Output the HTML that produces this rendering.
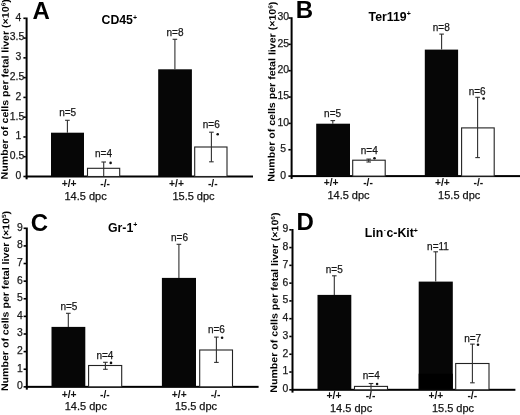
<!DOCTYPE html>
<html><head><meta charset="utf-8"><style>
html,body{margin:0;padding:0;background:#fff;}
svg{display:block;filter:blur(0.3px);}
text{font-family:"Liberation Sans", sans-serif;}
.r{stroke:#1a1a1a;stroke-width:0.25px;}
</style></head><body>
<svg width="520" height="415" viewBox="0 0 520 415">
<rect width="520" height="415" fill="#fff"/>
<rect x="25.6" y="17.5" width="2" height="161.8" fill="#000"/>
<rect x="25.6" y="175.5" width="227.4" height="2" fill="#000"/>
<rect x="23.4" y="175.7" width="2.4" height="1.6" fill="#000"/>
<text x="18.4" y="178.9" class="r" text-anchor="middle" font-size="10.4" fill="#1a1a1a">0</text>
<rect x="23.4" y="155.92" width="2.4" height="1.6" fill="#000"/>
<text x="17" y="159.12" class="r" text-anchor="middle" font-size="10.4" fill="#1a1a1a">0.5</text>
<rect x="23.4" y="136.15" width="2.4" height="1.6" fill="#000"/>
<text x="18.4" y="139.35" class="r" text-anchor="middle" font-size="10.4" fill="#1a1a1a">1</text>
<rect x="23.4" y="116.38" width="2.4" height="1.6" fill="#000"/>
<text x="17" y="119.58" class="r" text-anchor="middle" font-size="10.4" fill="#1a1a1a">1.5</text>
<rect x="23.4" y="96.6" width="2.4" height="1.6" fill="#000"/>
<text x="18.4" y="99.8" class="r" text-anchor="middle" font-size="10.4" fill="#1a1a1a">2</text>
<rect x="23.4" y="76.83" width="2.4" height="1.6" fill="#000"/>
<text x="17" y="80.03" class="r" text-anchor="middle" font-size="10.4" fill="#1a1a1a">2.5</text>
<rect x="23.4" y="57.05" width="2.4" height="1.6" fill="#000"/>
<text x="18.4" y="60.25" class="r" text-anchor="middle" font-size="10.4" fill="#1a1a1a">3</text>
<rect x="23.4" y="37.28" width="2.4" height="1.6" fill="#000"/>
<text x="17" y="40.48" class="r" text-anchor="middle" font-size="10.4" fill="#1a1a1a">3.5</text>
<rect x="23.4" y="17.5" width="2.4" height="1.6" fill="#000"/>
<text x="18.4" y="20.7" class="r" text-anchor="middle" font-size="10.4" fill="#1a1a1a">4</text>
<rect x="51" y="132.7" width="33" height="43.8" fill="#060606"/>
<line x1="67.4" y1="120.3" x2="67.4" y2="132.7" stroke="#303030" stroke-width="1.1"/>
<line x1="65.1" y1="120.3" x2="69.7" y2="120.3" stroke="#303030" stroke-width="1.1"/>
<text x="67.7" y="115.6" class="r" text-anchor="middle" font-size="10" fill="#151515">n=5</text>
<rect x="87.5" y="168.3" width="32.2" height="8.2" fill="#fff" stroke="#222" stroke-width="1.1"/>
<line x1="103.7" y1="162" x2="103.7" y2="176" stroke="#303030" stroke-width="1.1"/>
<line x1="101.4" y1="162" x2="106" y2="162" stroke="#303030" stroke-width="1.1"/>
<text x="103.5" y="157.1" class="r" text-anchor="middle" font-size="10" fill="#151515">n=4</text>
<circle cx="110.6" cy="162.9" r="1.3" fill="#111"/>
<rect x="158.2" y="69.3" width="33.7" height="107.2" fill="#060606"/>
<line x1="174.9" y1="39.3" x2="174.9" y2="69.3" stroke="#303030" stroke-width="1.1"/>
<line x1="172.6" y1="39.3" x2="177.2" y2="39.3" stroke="#303030" stroke-width="1.1"/>
<text x="175" y="35.6" class="r" text-anchor="middle" font-size="10" fill="#151515">n=8</text>
<rect x="194.7" y="147" width="32.3" height="29.5" fill="#fff" stroke="#222" stroke-width="1.1"/>
<line x1="211.4" y1="132.2" x2="211.4" y2="161.8" stroke="#303030" stroke-width="1.1"/>
<line x1="209.1" y1="132.2" x2="213.7" y2="132.2" stroke="#303030" stroke-width="1.1"/>
<line x1="209.1" y1="161.8" x2="213.7" y2="161.8" stroke="#303030" stroke-width="1.1"/>
<text x="211.3" y="127.9" class="r" text-anchor="middle" font-size="10" fill="#151515">n=6</text>
<circle cx="217.7" cy="134.3" r="1.3" fill="#111"/>
<text x="69.1" y="186.7" text-anchor="middle" font-size="10.3" font-weight="bold" fill="#111">+/+</text>
<text x="105.2" y="186.7" text-anchor="middle" font-size="10.3" font-weight="bold" fill="#111">-/-</text>
<text x="176.5" y="186.7" text-anchor="middle" font-size="10.3" font-weight="bold" fill="#111">+/+</text>
<text x="212.8" y="186.7" text-anchor="middle" font-size="10.3" font-weight="bold" fill="#111">-/-</text>
<text x="85.6" y="199.6" class="r" text-anchor="middle" font-size="11" fill="#111">14.5 dpc</text>
<text x="193.5" y="199.5" class="r" text-anchor="middle" font-size="11" fill="#111">15.5 dpc</text>
<text x="32.5" y="18.9" font-size="24" font-weight="bold" fill="#000">A</text>
<text x="101.5" y="24" font-size="12.3" font-weight="bold" fill="#000">CD45<tspan font-size="7" dy="-4.5">+</tspan></text>
<text transform="translate(7.7,179.4) rotate(-89.6) scale(1.095,1)" font-size="9.7" font-weight="bold" fill="#000">Number of cells per fetal liver (×10<tspan font-size="6" dy="-3.3">6</tspan><tspan dy="3.3">)</tspan></text>
<rect x="290.6" y="17.2" width="2" height="161.7" fill="#000"/>
<rect x="290.6" y="175.1" width="229.4" height="2" fill="#000"/>
<rect x="288.4" y="175.3" width="2.4" height="1.6" fill="#000"/>
<text x="283.2" y="178.5" class="r" text-anchor="middle" font-size="10.4" fill="#1a1a1a">0</text>
<rect x="288.4" y="148.95" width="2.4" height="1.6" fill="#000"/>
<text x="283.2" y="152.15" class="r" text-anchor="middle" font-size="10.4" fill="#1a1a1a">5</text>
<rect x="288.4" y="122.6" width="2.4" height="1.6" fill="#000"/>
<text x="283.2" y="125.8" class="r" text-anchor="middle" font-size="10.4" fill="#1a1a1a">10</text>
<rect x="288.4" y="96.25" width="2.4" height="1.6" fill="#000"/>
<text x="283.2" y="99.45" class="r" text-anchor="middle" font-size="10.4" fill="#1a1a1a">15</text>
<rect x="288.4" y="69.9" width="2.4" height="1.6" fill="#000"/>
<text x="283.2" y="73.1" class="r" text-anchor="middle" font-size="10.4" fill="#1a1a1a">20</text>
<rect x="288.4" y="43.55" width="2.4" height="1.6" fill="#000"/>
<text x="283.2" y="46.75" class="r" text-anchor="middle" font-size="10.4" fill="#1a1a1a">25</text>
<rect x="288.4" y="17.2" width="2.4" height="1.6" fill="#000"/>
<text x="283.2" y="20.4" class="r" text-anchor="middle" font-size="10.4" fill="#1a1a1a">30</text>
<rect x="316.2" y="123.7" width="33.8" height="52.4" fill="#060606"/>
<line x1="332.8" y1="120.6" x2="332.8" y2="123.7" stroke="#303030" stroke-width="1.1"/>
<line x1="330.5" y1="120.6" x2="335.1" y2="120.6" stroke="#303030" stroke-width="1.1"/>
<text x="332.6" y="116.8" class="r" text-anchor="middle" font-size="10" fill="#151515">n=5</text>
<rect x="352.7" y="160.2" width="32.5" height="15.9" fill="#fff" stroke="#222" stroke-width="1.1"/>
<line x1="368.7" y1="159.1" x2="368.7" y2="162" stroke="#303030" stroke-width="1.1"/>
<line x1="366.4" y1="159.1" x2="371" y2="159.1" stroke="#303030" stroke-width="1.1"/>
<line x1="366.4" y1="162" x2="371" y2="162" stroke="#303030" stroke-width="1.1"/>
<text x="369.3" y="153.9" class="r" text-anchor="middle" font-size="10" fill="#151515">n=4</text>
<circle cx="374.5" cy="158.3" r="1.3" fill="#111"/>
<rect x="424.8" y="49.6" width="33.3" height="126.5" fill="#060606"/>
<line x1="441.6" y1="34.1" x2="441.6" y2="49.6" stroke="#303030" stroke-width="1.1"/>
<line x1="439.3" y1="34.1" x2="443.9" y2="34.1" stroke="#303030" stroke-width="1.1"/>
<text x="441.3" y="30.6" class="r" text-anchor="middle" font-size="10" fill="#151515">n=8</text>
<rect x="461.6" y="127.9" width="32.6" height="48.2" fill="#fff" stroke="#222" stroke-width="1.1"/>
<line x1="477.6" y1="97.3" x2="477.6" y2="157.6" stroke="#303030" stroke-width="1.1"/>
<line x1="475.3" y1="97.3" x2="479.9" y2="97.3" stroke="#303030" stroke-width="1.1"/>
<line x1="475.3" y1="157.6" x2="479.9" y2="157.6" stroke="#303030" stroke-width="1.1"/>
<text x="477.2" y="94.5" class="r" text-anchor="middle" font-size="10" fill="#151515">n=6</text>
<circle cx="483.6" cy="98.5" r="1.3" fill="#111"/>
<text x="331.2" y="186.3" text-anchor="middle" font-size="10.3" font-weight="bold" fill="#111">+/+</text>
<text x="368" y="186.3" text-anchor="middle" font-size="10.3" font-weight="bold" fill="#111">-/-</text>
<text x="442.4" y="186.3" text-anchor="middle" font-size="10.3" font-weight="bold" fill="#111">+/+</text>
<text x="478.4" y="186.3" text-anchor="middle" font-size="10.3" font-weight="bold" fill="#111">-/-</text>
<text x="348.5" y="199.2" class="r" text-anchor="middle" font-size="11" fill="#111">14.5 dpc</text>
<text x="459.2" y="199.4" class="r" text-anchor="middle" font-size="11" fill="#111">15.5 dpc</text>
<text x="295.8" y="17.9" font-size="24" font-weight="bold" fill="#000">B</text>
<text x="368.6" y="20.6" font-size="12.3" font-weight="bold" fill="#000">Ter119<tspan font-size="7" dy="-4.5">+</tspan></text>
<text transform="translate(274.5,181.8) rotate(-89.6) scale(1.095,1)" font-size="9.7" font-weight="bold" fill="#000">Number of cells per fetal liver (×10<tspan font-size="6" dy="-3.3">6</tspan><tspan dy="3.3">)</tspan></text>
<rect x="25.8" y="227.5" width="2" height="162.15" fill="#000"/>
<rect x="25.8" y="385.85" width="232.8" height="2" fill="#000"/>
<rect x="23.6" y="386.05" width="2.4" height="1.6" fill="#000"/>
<text x="19.95" y="389.25" class="r" text-anchor="middle" font-size="10.4" fill="#1a1a1a">0</text>
<rect x="23.6" y="368.43" width="2.4" height="1.6" fill="#000"/>
<text x="19.95" y="371.63" class="r" text-anchor="middle" font-size="10.4" fill="#1a1a1a">1</text>
<rect x="23.6" y="350.82" width="2.4" height="1.6" fill="#000"/>
<text x="19.95" y="354.02" class="r" text-anchor="middle" font-size="10.4" fill="#1a1a1a">2</text>
<rect x="23.6" y="333.2" width="2.4" height="1.6" fill="#000"/>
<text x="19.95" y="336.4" class="r" text-anchor="middle" font-size="10.4" fill="#1a1a1a">3</text>
<rect x="23.6" y="315.58" width="2.4" height="1.6" fill="#000"/>
<text x="19.95" y="318.78" class="r" text-anchor="middle" font-size="10.4" fill="#1a1a1a">4</text>
<rect x="23.6" y="297.97" width="2.4" height="1.6" fill="#000"/>
<text x="19.95" y="301.17" class="r" text-anchor="middle" font-size="10.4" fill="#1a1a1a">5</text>
<rect x="23.6" y="280.35" width="2.4" height="1.6" fill="#000"/>
<text x="19.95" y="283.55" class="r" text-anchor="middle" font-size="10.4" fill="#1a1a1a">6</text>
<rect x="23.6" y="262.73" width="2.4" height="1.6" fill="#000"/>
<text x="19.95" y="265.93" class="r" text-anchor="middle" font-size="10.4" fill="#1a1a1a">7</text>
<rect x="23.6" y="245.12" width="2.4" height="1.6" fill="#000"/>
<text x="19.95" y="248.32" class="r" text-anchor="middle" font-size="10.4" fill="#1a1a1a">8</text>
<rect x="23.6" y="227.5" width="2.4" height="1.6" fill="#000"/>
<text x="19.95" y="230.7" class="r" text-anchor="middle" font-size="10.4" fill="#1a1a1a">9</text>
<rect x="51.5" y="326.9" width="33.8" height="59.95" fill="#060606"/>
<line x1="68.3" y1="313.3" x2="68.3" y2="326.9" stroke="#303030" stroke-width="1.1"/>
<line x1="66" y1="313.3" x2="70.6" y2="313.3" stroke="#303030" stroke-width="1.1"/>
<text x="68.9" y="309.8" class="r" text-anchor="middle" font-size="10" fill="#151515">n=5</text>
<rect x="88.6" y="365.5" width="33.1" height="21.35" fill="#fff" stroke="#222" stroke-width="1.1"/>
<line x1="105.4" y1="362.3" x2="105.4" y2="369.3" stroke="#303030" stroke-width="1.1"/>
<line x1="103.1" y1="362.3" x2="107.7" y2="362.3" stroke="#303030" stroke-width="1.1"/>
<line x1="103.1" y1="369.3" x2="107.7" y2="369.3" stroke="#303030" stroke-width="1.1"/>
<text x="104.9" y="358.9" class="r" text-anchor="middle" font-size="10" fill="#151515">n=4</text>
<circle cx="111" cy="362.9" r="1.3" fill="#111"/>
<rect x="161.9" y="277.9" width="34.1" height="108.95" fill="#060606"/>
<line x1="178.9" y1="244.3" x2="178.9" y2="277.9" stroke="#303030" stroke-width="1.1"/>
<line x1="176.6" y1="244.3" x2="181.2" y2="244.3" stroke="#303030" stroke-width="1.1"/>
<text x="179.5" y="241.4" class="r" text-anchor="middle" font-size="10" fill="#151515">n=6</text>
<rect x="199.7" y="350" width="32.8" height="36.85" fill="#fff" stroke="#222" stroke-width="1.1"/>
<line x1="216.4" y1="337.1" x2="216.4" y2="362.4" stroke="#303030" stroke-width="1.1"/>
<line x1="214.1" y1="337.1" x2="218.7" y2="337.1" stroke="#303030" stroke-width="1.1"/>
<line x1="214.1" y1="362.4" x2="218.7" y2="362.4" stroke="#303030" stroke-width="1.1"/>
<text x="216.4" y="333.1" class="r" text-anchor="middle" font-size="10" fill="#151515">n=6</text>
<circle cx="222.1" cy="337.7" r="1.3" fill="#111"/>
<text x="69.1" y="397.8" text-anchor="middle" font-size="10.3" font-weight="bold" fill="#111">+/+</text>
<text x="104.9" y="397.8" text-anchor="middle" font-size="10.3" font-weight="bold" fill="#111">-/-</text>
<text x="179.3" y="397.8" text-anchor="middle" font-size="10.3" font-weight="bold" fill="#111">+/+</text>
<text x="215.5" y="397.8" text-anchor="middle" font-size="10.3" font-weight="bold" fill="#111">-/-</text>
<text x="85.8" y="410.1" class="r" text-anchor="middle" font-size="11" fill="#111">14.5 dpc</text>
<text x="196" y="410.3" class="r" text-anchor="middle" font-size="11" fill="#111">15.5 dpc</text>
<text x="30.8" y="230.7" font-size="24" font-weight="bold" fill="#000">C</text>
<text x="108" y="231.9" font-size="12.3" font-weight="bold" fill="#000">Gr-1<tspan font-size="7" dy="-4.5">+</tspan></text>
<text transform="translate(8.1,391.1) rotate(-89.6) scale(1.095,1)" font-size="9.7" font-weight="bold" fill="#000">Number of cells per fetal liver (×10<tspan font-size="6" dy="-3.3">5</tspan><tspan dy="3.3">)</tspan></text>
<rect x="291.5" y="229" width="2" height="163.6" fill="#000"/>
<rect x="291.5" y="388.8" width="223.9" height="2" fill="#000"/>
<rect x="289.3" y="389" width="2.4" height="1.6" fill="#000"/>
<text x="285.5" y="392.2" class="r" text-anchor="middle" font-size="10.4" fill="#1a1a1a">0</text>
<rect x="289.3" y="371.22" width="2.4" height="1.6" fill="#000"/>
<text x="285.5" y="374.42" class="r" text-anchor="middle" font-size="10.4" fill="#1a1a1a">1</text>
<rect x="289.3" y="353.44" width="2.4" height="1.6" fill="#000"/>
<text x="285.5" y="356.64" class="r" text-anchor="middle" font-size="10.4" fill="#1a1a1a">2</text>
<rect x="289.3" y="335.67" width="2.4" height="1.6" fill="#000"/>
<text x="285.5" y="338.87" class="r" text-anchor="middle" font-size="10.4" fill="#1a1a1a">3</text>
<rect x="289.3" y="317.89" width="2.4" height="1.6" fill="#000"/>
<text x="285.5" y="321.09" class="r" text-anchor="middle" font-size="10.4" fill="#1a1a1a">4</text>
<rect x="289.3" y="300.11" width="2.4" height="1.6" fill="#000"/>
<text x="285.5" y="303.31" class="r" text-anchor="middle" font-size="10.4" fill="#1a1a1a">5</text>
<rect x="289.3" y="282.33" width="2.4" height="1.6" fill="#000"/>
<text x="285.5" y="285.53" class="r" text-anchor="middle" font-size="10.4" fill="#1a1a1a">6</text>
<rect x="289.3" y="264.56" width="2.4" height="1.6" fill="#000"/>
<text x="285.5" y="267.76" class="r" text-anchor="middle" font-size="10.4" fill="#1a1a1a">7</text>
<rect x="289.3" y="246.78" width="2.4" height="1.6" fill="#000"/>
<text x="285.5" y="249.98" class="r" text-anchor="middle" font-size="10.4" fill="#1a1a1a">8</text>
<rect x="289.3" y="229" width="2.4" height="1.6" fill="#000"/>
<text x="285.5" y="232.2" class="r" text-anchor="middle" font-size="10.4" fill="#1a1a1a">9</text>
<rect x="317.5" y="294.9" width="33.8" height="94.9" fill="#060606"/>
<line x1="334.3" y1="275.8" x2="334.3" y2="294.9" stroke="#303030" stroke-width="1.1"/>
<line x1="332" y1="275.8" x2="336.6" y2="275.8" stroke="#303030" stroke-width="1.1"/>
<text x="334.3" y="273.2" class="r" text-anchor="middle" font-size="10" fill="#151515">n=5</text>
<rect x="354.5" y="386.4" width="33" height="3.4" fill="#fff" stroke="#222" stroke-width="1.1"/>
<line x1="371" y1="383.5" x2="371" y2="389" stroke="#303030" stroke-width="1.1"/>
<line x1="368.7" y1="383.5" x2="373.3" y2="383.5" stroke="#303030" stroke-width="1.1"/>
<text x="371.3" y="378.5" class="r" text-anchor="middle" font-size="10" fill="#151515">n=4</text>
<circle cx="377.1" cy="384" r="1.3" fill="#111"/>
<rect x="418.7" y="281.6" width="34.1" height="108.2" fill="#060606"/>
<line x1="435.7" y1="251.8" x2="435.7" y2="281.6" stroke="#303030" stroke-width="1.1"/>
<line x1="433.4" y1="251.8" x2="438" y2="251.8" stroke="#303030" stroke-width="1.1"/>
<text x="438" y="249.8" class="r" text-anchor="middle" font-size="10" fill="#151515">n=11</text>
<rect x="455.7" y="363.5" width="33.3" height="26.3" fill="#fff" stroke="#222" stroke-width="1.1"/>
<line x1="472.4" y1="344.1" x2="472.4" y2="382.8" stroke="#303030" stroke-width="1.1"/>
<line x1="470.1" y1="344.1" x2="474.7" y2="344.1" stroke="#303030" stroke-width="1.1"/>
<line x1="470.1" y1="382.8" x2="474.7" y2="382.8" stroke="#303030" stroke-width="1.1"/>
<text x="472.7" y="341.8" class="r" text-anchor="middle" font-size="10" fill="#151515">n=7</text>
<circle cx="478" cy="344.8" r="1.3" fill="#111"/>
<text x="334" y="398.9" text-anchor="middle" font-size="10.3" font-weight="bold" fill="#111">+/+</text>
<text x="370.5" y="398.9" text-anchor="middle" font-size="10.3" font-weight="bold" fill="#111">-/-</text>
<text x="435.9" y="398.9" text-anchor="middle" font-size="10.3" font-weight="bold" fill="#111">+/+</text>
<text x="472.3" y="398.9" text-anchor="middle" font-size="10.3" font-weight="bold" fill="#111">-/-</text>
<text x="351.1" y="411.7" class="r" text-anchor="middle" font-size="11" fill="#111">14.5 dpc</text>
<text x="453" y="412.4" class="r" text-anchor="middle" font-size="11" fill="#111">15.5 dpc</text>
<text x="296.5" y="229.9" font-size="24" font-weight="bold" fill="#000">D</text>
<text x="364.8" y="237.2" font-size="12.3" font-weight="bold" fill="#000">Lin<tspan font-size="6" dx="0.6" dy="-5.3">-</tspan><tspan dx="0.6" dy="5.3">c-Kit</tspan><tspan font-size="7" dy="-4.5">+</tspan></text>
<text transform="translate(277.1,392.7) rotate(-89.6) scale(1.095,1)" font-size="9.7" font-weight="bold" fill="#000">Number of cells per fetal liver (×10<tspan font-size="6" dy="-3.3">6</tspan><tspan dy="3.3">)</tspan></text>
<rect x="418.7" y="373.7" width="34.1" height="15.1" fill="#000"/>
</svg>
</body></html>
